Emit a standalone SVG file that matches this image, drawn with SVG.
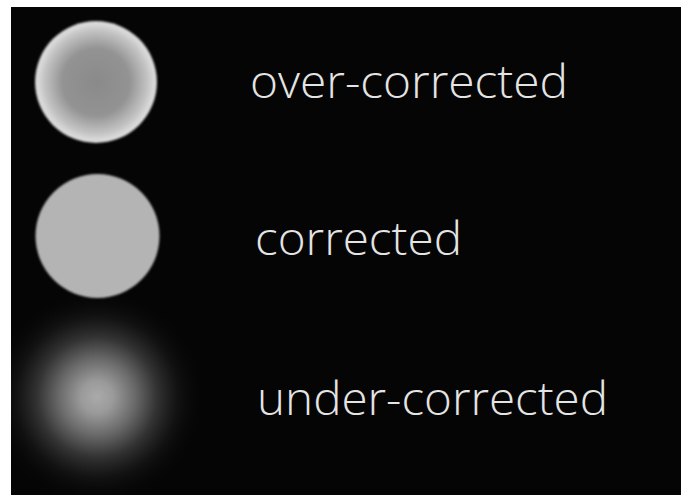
<svg xmlns="http://www.w3.org/2000/svg" width="681" height="495" viewBox="0 0 681 495">
<defs>
<radialGradient id="g1" cx="0.5" cy="0.5" r="0.5">
<stop offset="0" stop-color="#8a8a8a"/>
<stop offset="0.55" stop-color="#939393"/>
<stop offset="0.85" stop-color="#c4c4c4"/>
<stop offset="0.96" stop-color="#dcdcdc"/>
<stop offset="1" stop-color="#cfcfcf"/>
</radialGradient>
<radialGradient id="g3" cx="0.5" cy="0.5" r="0.5">
<stop offset="0" stop-color="#aaaaaa"/>
<stop offset="0.15" stop-color="#9a9a9a"/>
<stop offset="0.35" stop-color="#6a6a6a"/>
<stop offset="0.55" stop-color="#343434"/>
<stop offset="0.75" stop-color="#151515" stop-opacity="0.8"/>
<stop offset="1" stop-color="#050505" stop-opacity="0"/>
</radialGradient>
<clipPath id="bg"><rect x="11" y="7" width="670" height="488"/></clipPath>
<filter id="soft" x="-10%" y="-10%" width="120%" height="120%"><feGaussianBlur stdDeviation="1.2"/></filter>
</defs>
<style>
.lbl{font-family:"Open Sans","Noto Sans",sans-serif;font-size:46px;font-weight:300;fill:#e4e4e4}
</style>
<rect width="681" height="495" fill="#ffffff"/>
<rect x="11" y="7" width="670" height="488" fill="#050505"/>
<g id="under">
<g clip-path="url(#bg)">
<circle cx="97" cy="397" r="108" fill="url(#g3)"/>
</g>
<text class="lbl" x="257" y="415" textLength="351" lengthAdjust="spacingAndGlyphs">under-corrected</text>
</g>
<g id="over">
<circle cx="96" cy="82" r="61" fill="url(#g1)" filter="url(#soft)"/>
<text class="lbl" x="250" y="98" textLength="318" lengthAdjust="spacingAndGlyphs">over-corrected</text>
</g>
<g id="corrected">
<circle cx="97.5" cy="236" r="62" fill="#b4b4b4" filter="url(#soft)"/>
<text class="lbl" x="255" y="255" textLength="207" lengthAdjust="spacingAndGlyphs">corrected</text>
</g>
</svg>
